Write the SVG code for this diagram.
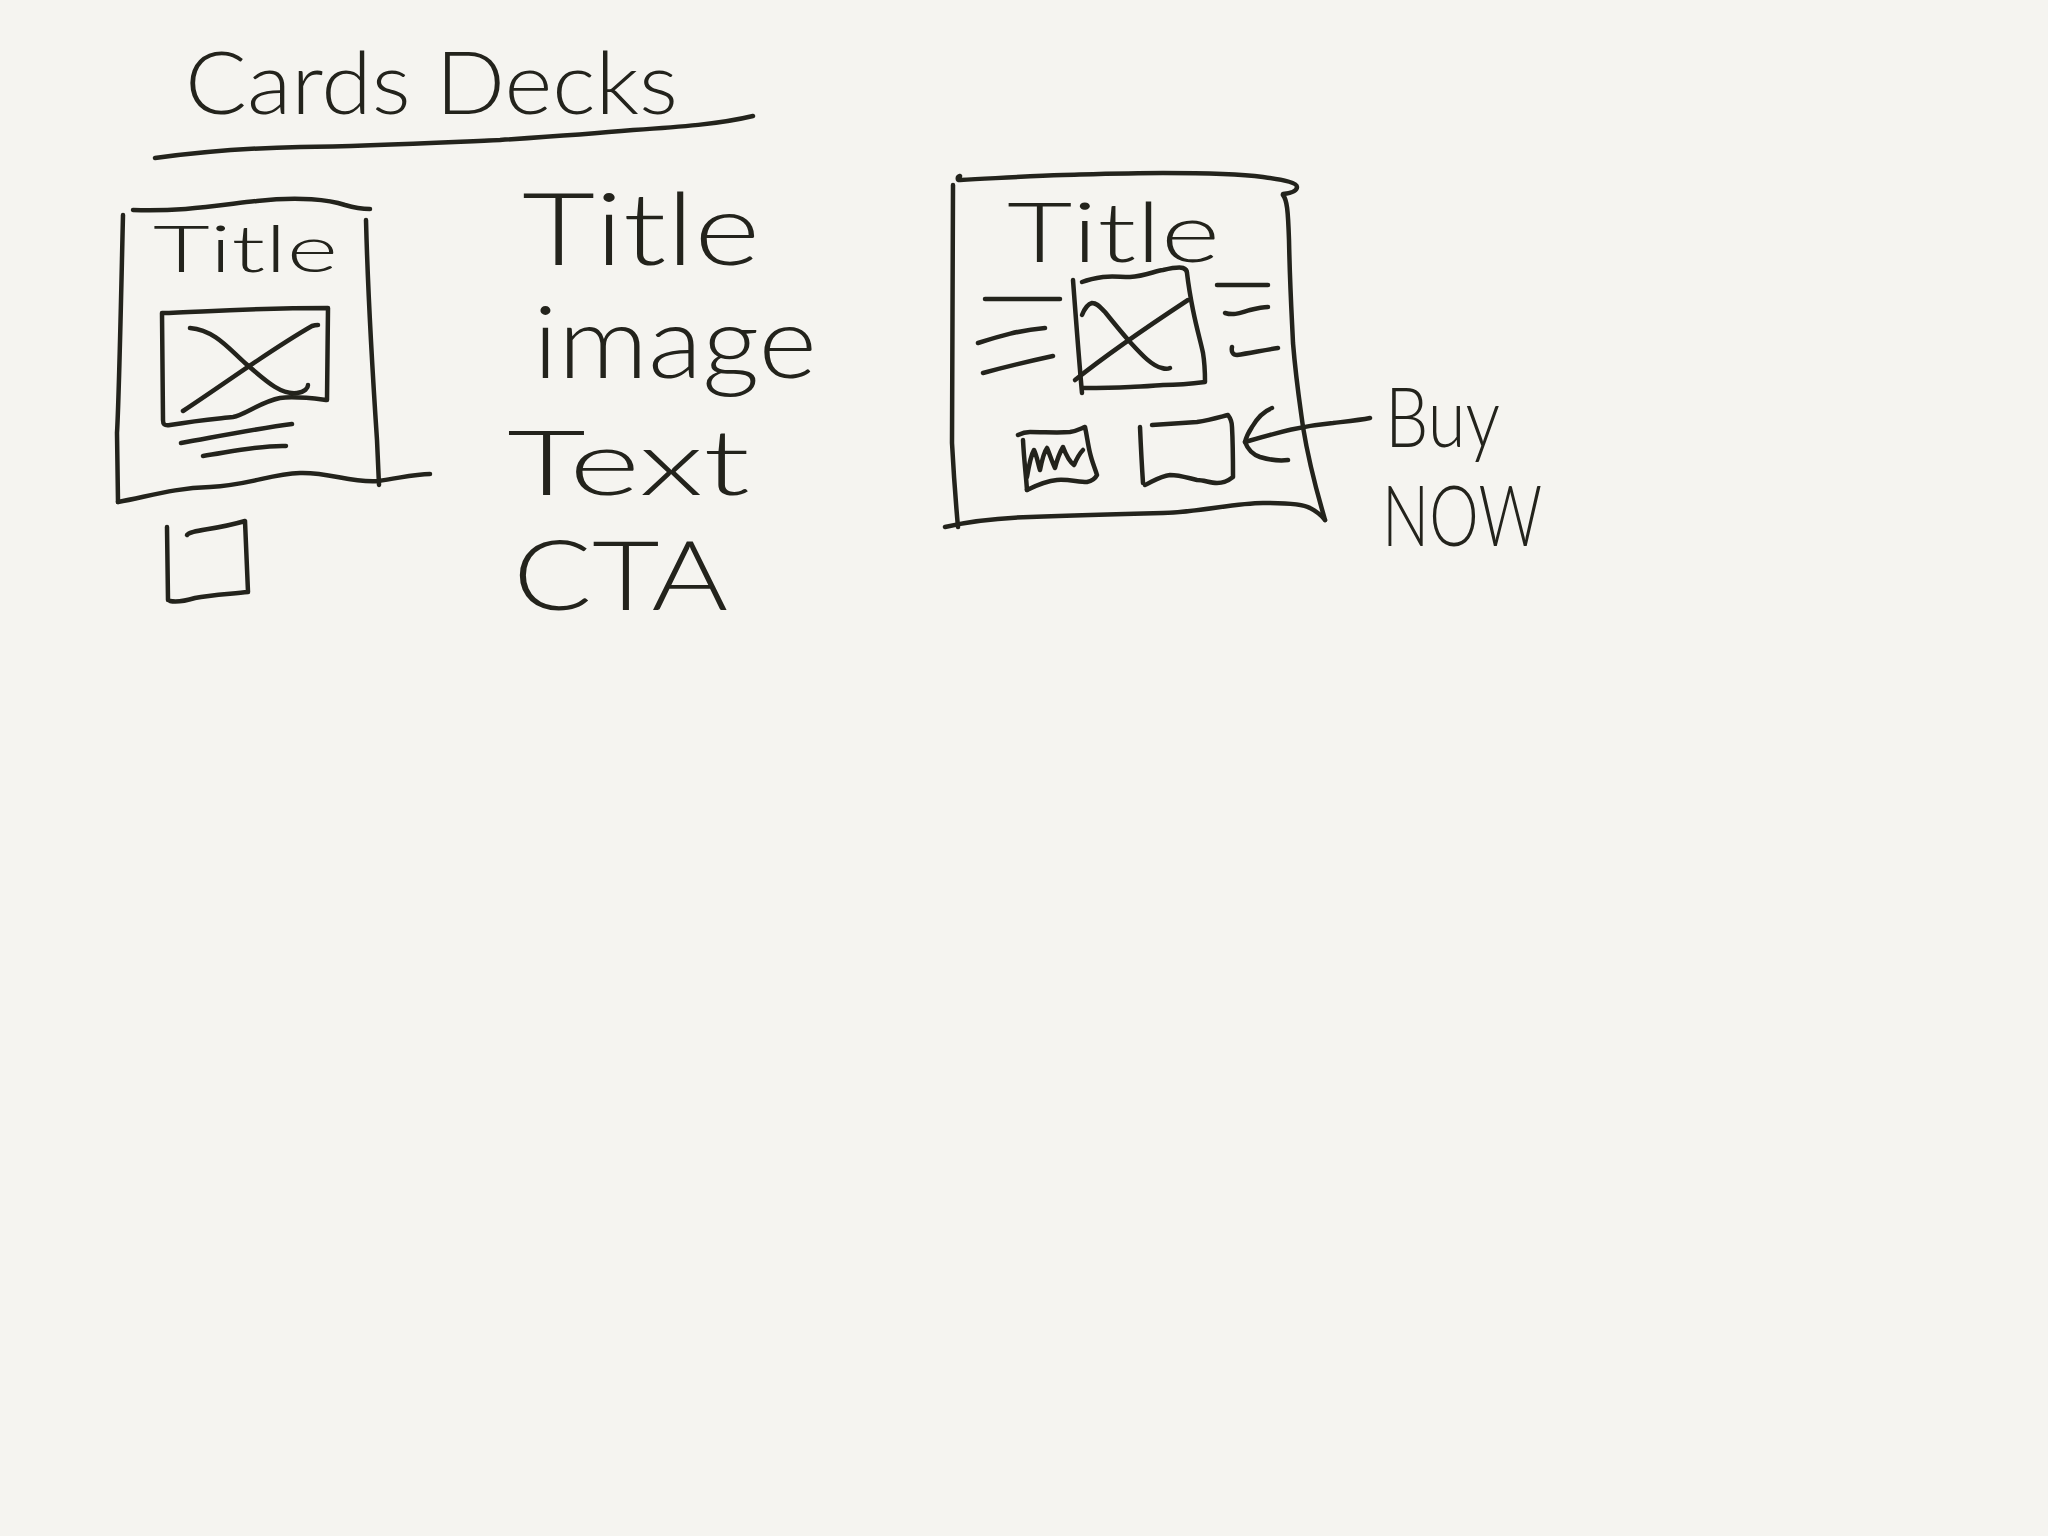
<svg xmlns="http://www.w3.org/2000/svg" width="2048" height="1536" viewBox="0 0 2048 1536">
<style>
.ink{fill:none;stroke:#23231c;stroke-width:4.5;stroke-linecap:round;stroke-linejoin:round}
.hand{font-family:"Lato","Liberation Sans","DejaVu Sans",sans-serif;font-weight:300;fill:#23231c}
</style>
<rect width="2048" height="1536" fill="#f5f4f0"/>
<g id="heading">
<text class="hand" x="185" y="114" font-size="86" textLength="493" lengthAdjust="spacingAndGlyphs">Cards Decks</text>
<path class="ink" d="M155,158 C200,152 250,148 300,147 C380,146 450,142 500,140 C560,136 600,133 633,130 C680,127 720,124 753,116"/>
</g>
<g id="card-sketch-left">
<path class="ink" d="M133,210 C180,212 220,205 257,201 C300,196 330,200 345,205 C355,208 362,209 370,209"/>
<path class="ink" d="M123,215 C121,300 119,400 117,433 L118,502"/>
<path class="ink" d="M118,502 C150,496 175,488 210,487 C250,485 270,474 300,473 C330,472 350,483 378,481 C400,478 415,474 430,474"/>
<path class="ink" d="M366,220 C368,300 373,380 377,440 L379,485"/>
<text class="hand" x="153" y="272" font-size="66" textLength="185" lengthAdjust="spacingAndGlyphs">Title</text>
<path class="ink" d="M162,313 C200,312 250,308 328,308 L327,400 C310,398 295,396 280,398 C260,402 245,415 233,417 C215,419 200,420 170,425 C164,426 163,424 163,420 Z"/>
<path class="ink" d="M190,328 C215,330 230,350 245,363 C265,380 280,395 297,393 C305,392 308,388 308,385"/>
<path class="ink" d="M183,411 C230,380 270,350 312,326 C315,325 317,325 318,325"/>
<path class="ink" d="M181,443 C220,436 260,428 292,424"/>
<path class="ink" d="M203,456 C230,452 260,445 286,446"/>
</g>
<g id="cta-box-left">
<path class="ink" d="M167,527 L168,600"/>
<path class="ink" d="M187,535 C190,530 215,530 245,521 L248,592 C230,594 210,595 195,598 C185,601 175,602 170,601"/>
</g>
<g id="element-list">
<text class="hand" x="522" y="265" font-size="100" textLength="238" lengthAdjust="spacingAndGlyphs">Title</text>
<text class="hand" x="533" y="378" font-size="100" textLength="284" lengthAdjust="spacingAndGlyphs">image</text>
<text class="hand" x="507" y="495" font-size="90" textLength="243" lengthAdjust="spacingAndGlyphs">Text</text>
<text class="hand" x="513" y="610" font-size="96" textLength="215" lengthAdjust="spacingAndGlyphs">CTA</text>
</g>
<g id="card-sketch-right">
<path class="ink" d="M960,176 C957,177 957,180 960,180 C1000,178 1030,176 1063,175 C1100,174 1130,173 1163,173 C1200,173 1240,174 1263,177 C1285,180 1297,183 1297,187 C1297,191 1292,193 1283,194"/>
<path class="ink" d="M953,185 C953,300 952,400 952,443 C954,480 956,505 958,527"/>
<path class="ink" d="M945,527 C975,520 1000,518 1030,517 C1080,515 1120,514 1163,513 C1200,512 1235,503 1263,503 C1290,503 1305,505 1310,508 C1318,512 1322,516 1325,520"/>
<path class="ink" d="M1283,195 C1287,200 1288,210 1289,240 C1290,290 1292,320 1293,343 C1296,380 1300,405 1303,427 C1310,470 1318,495 1325,520"/>
<text class="hand" x="1007" y="262" font-size="82" textLength="213" lengthAdjust="spacingAndGlyphs">Title</text>
<path class="ink" d="M1073,280 C1076,320 1079,360 1082,393"/>
<path class="ink" d="M1082,282 C1090,279 1096,278 1103,277 C1112,276 1120,277 1130,277 C1145,276 1155,271 1163,270 C1172,268 1180,267 1183,268 C1186,269 1187,271 1187,273 C1189,290 1191,300 1193,310 C1197,330 1201,343 1203,353 C1205,365 1205,375 1205,382 C1190,384 1175,385 1163,385 C1150,386 1140,387 1130,387 C1110,388 1095,388 1083,388"/>
<path class="ink" d="M1082,315 C1084,310 1088,304 1092,303 C1097,303 1100,307 1105,312 C1113,322 1122,333 1130,342 C1142,355 1152,366 1162,368 C1165,369 1168,369 1170,368"/>
<path class="ink" d="M1075,380 C1110,352 1150,325 1188,300"/>
<path class="ink" d="M985,299 L1060,299"/>
<path class="ink" d="M978,343 C1000,336 1020,330 1045,328"/>
<path class="ink" d="M983,373 C1005,367 1030,361 1053,356"/>
<path class="ink" d="M1217,285 L1268,285"/>
<path class="ink" d="M1225,313 C1235,316 1242,312 1250,310 C1258,308 1264,307 1268,307"/>
<path class="ink" d="M1232,347 C1231,352 1233,355 1237,355 C1250,353 1265,350 1278,348"/>
<path class="ink" d="M1023,440 C1024,460 1026,475 1027,490"/>
<path class="ink" d="M1018,435 C1022,433 1026,432 1030,432 C1045,432 1058,433 1070,432 C1077,431 1082,428 1085,427 C1087,436 1088,445 1090,453 C1092,462 1095,468 1097,475 C1095,479 1092,481 1087,482 C1078,482 1068,479 1057,480 C1045,481 1035,486 1027,490"/>
<path class="ink" d="M1027,477 C1029,465 1031,455 1034,450 C1037,456 1038,464 1040,470 C1042,460 1044,452 1047,448 C1050,455 1052,462 1055,468 C1057,460 1060,452 1063,447 C1066,455 1070,462 1074,465 C1077,458 1080,453 1083,450"/>
<path class="ink" d="M1140,427 C1141,450 1142,468 1143,483"/>
<path class="ink" d="M1152,425 C1168,424 1182,423 1197,422 C1210,420 1220,417 1228,415 C1231,419 1232,423 1232,427 C1233,445 1233,460 1233,477 C1228,481 1223,483 1217,483 C1210,483 1204,480 1197,480 C1188,478 1180,475 1170,475 C1160,476 1152,482 1145,485"/>
</g>
<g id="connectors">
<path class="ink" d="M1245,442 C1280,432 1300,426 1333,423 C1350,421 1360,420 1370,418"/>
<path class="ink" d="M1272,408 C1262,412 1256,420 1252,427 C1248,433 1246,438 1245,442 C1248,450 1254,455 1260,457 C1270,460 1280,461 1288,460"/>
</g>
<g id="buy-now-label">
<text class="hand" x="1385" y="447" font-size="82" textLength="115" lengthAdjust="spacingAndGlyphs">Buy</text>
<text class="hand" x="1382" y="546" font-size="84" textLength="160" lengthAdjust="spacingAndGlyphs">NOW</text>
</g>
</svg>
